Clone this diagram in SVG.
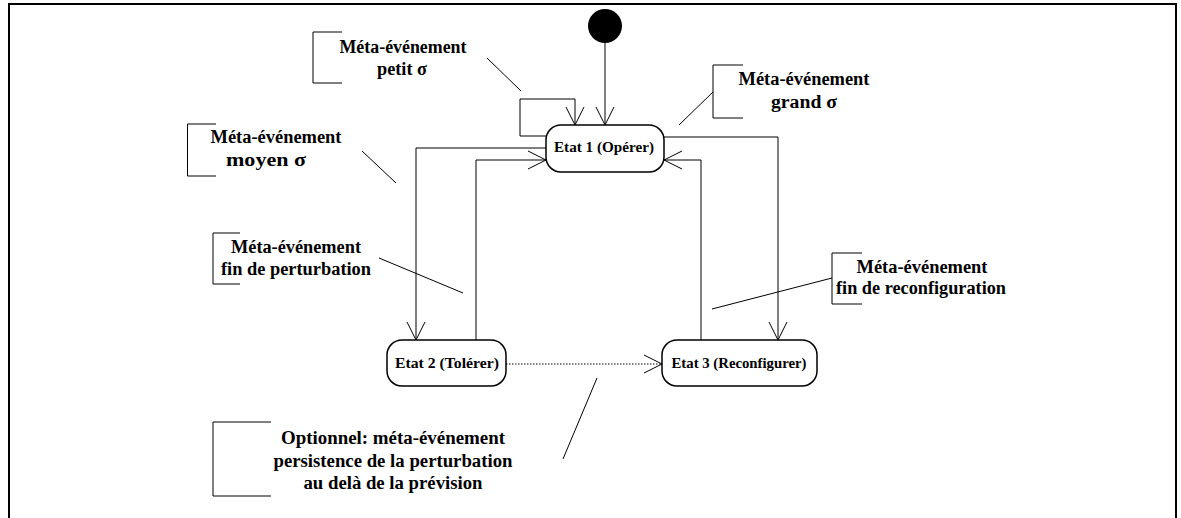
<svg xmlns="http://www.w3.org/2000/svg" width="1181" height="518" viewBox="0 0 1181 518">
<style>
.lbl{font-family:"Liberation Serif","Times New Roman",serif;font-weight:bold;font-size:18.5px;fill:#000;text-anchor:middle}
.st{font-family:"Liberation Serif","Times New Roman",serif;font-weight:bold;font-size:15.5px;fill:#000;text-anchor:middle}
.box{fill:#fff;stroke:#000;stroke-width:1.5}
.con{fill:none;stroke:#000;stroke-width:1}
.dot{fill:none;stroke:#000;stroke-width:1;stroke-dasharray:1.5 1.5}
.ann{fill:none;stroke:#000;stroke-width:1}
.brk{fill:none;stroke:#000;stroke-width:1}
</style>
<defs>
<marker id="arr" viewBox="0 0 20 20" refX="19" refY="10" markerWidth="20" markerHeight="20" markerUnits="userSpaceOnUse" orient="auto">
<path d="M1,1 L19,10 L1,19" fill="none" stroke="#000" stroke-width="1"/>
</marker>
</defs>
<rect width="1181" height="518" fill="#fff"/>
<g id="frame">
<path d="M9,518 V4 H1176 V518" fill="none" stroke="#000" stroke-width="2"/>
</g>
<g id="connectors">
<path class="con" d="M605,43 V125" marker-end="url(#arr)"/>
<path class="con" d="M546,136 H520 V99 H575 V125" marker-end="url(#arr)"/>
<path class="con" d="M546,148 H416 V340" marker-end="url(#arr)"/>
<path class="con" d="M476,340 V160 H546" marker-end="url(#arr)"/>
<path class="con" d="M664,137 H778 V340" marker-end="url(#arr)"/>
<path class="con" d="M701,340 V160 H664" marker-end="url(#arr)"/>
<path class="dot" d="M506,364 H662" marker-end="url(#arr)"/>
<line class="ann" x1="487" y1="58" x2="521" y2="91"/>
<line class="ann" x1="713" y1="92" x2="679" y2="125"/>
<line class="ann" x1="362" y1="151" x2="396" y2="183"/>
<line class="ann" x1="379" y1="258" x2="463" y2="293"/>
<line class="ann" x1="832" y1="278" x2="712" y2="309"/>
<line class="ann" x1="597" y1="378" x2="563" y2="459"/>
</g>
<g id="initial">
<circle cx="605" cy="26" r="17" fill="#000"/>
</g>
<g id="etat1">
<rect class="box" x="546" y="125" width="118" height="47" rx="15" ry="15"/>
<text class="st" x="604" y="152" textLength="100" lengthAdjust="spacingAndGlyphs">Etat 1 (Opérer)</text>
</g>
<g id="etat2">
<rect class="box" x="387" y="340" width="119" height="46" rx="15" ry="15"/>
<text class="st" x="447" y="368" textLength="104" lengthAdjust="spacingAndGlyphs">Etat 2 (Tolérer)</text>
</g>
<g id="etat3">
<rect class="box" x="662" y="340" width="155" height="46" rx="15" ry="15"/>
<text class="st" x="739" y="368" textLength="135" lengthAdjust="spacingAndGlyphs">Etat 3 (Reconfigurer)</text>
</g>
<g id="note-petit">
<path class="brk" d="M342,32 H313 V83 H342"/>
<text class="lbl" x="403" y="53" textLength="127" lengthAdjust="spacingAndGlyphs">Méta-événement</text>
<text class="lbl" x="402" y="75" textLength="50" lengthAdjust="spacingAndGlyphs">petit σ</text>
</g>
<g id="note-grand">
<path class="brk" d="M743,65 H713 V118 H743"/>
<text class="lbl" x="804" y="85" textLength="131" lengthAdjust="spacingAndGlyphs">Méta-événement</text>
<text class="lbl" x="804" y="108" textLength="66" lengthAdjust="spacingAndGlyphs">grand  σ</text>
</g>
<g id="note-moyen">
<path class="brk" d="M216,124 H187.5 V176 H216"/>
<text class="lbl" x="276" y="143" textLength="131" lengthAdjust="spacingAndGlyphs">Méta-événement</text>
<text class="lbl" x="266" y="166" textLength="80" lengthAdjust="spacingAndGlyphs">moyen σ</text>
</g>
<g id="note-finpert">
<path class="brk" d="M240,233 H213 V284 H240"/>
<text class="lbl" x="296" y="253" textLength="130" lengthAdjust="spacingAndGlyphs">Méta-événement</text>
<text class="lbl" x="296" y="275" textLength="150" lengthAdjust="spacingAndGlyphs">fin de perturbation</text>
</g>
<g id="note-finreconf">
<path class="brk" d="M862,253 H832 V304 H862"/>
<text class="lbl" x="922" y="273" textLength="131" lengthAdjust="spacingAndGlyphs">Méta-événement</text>
<text class="lbl" x="921" y="294" textLength="170" lengthAdjust="spacingAndGlyphs">fin de reconfiguration</text>
</g>
<g id="note-optionnel">
<path class="brk" d="M271,422 H213 V496 H271"/>
<text class="lbl" x="393" y="444" textLength="224" lengthAdjust="spacingAndGlyphs">Optionnel: méta-événement</text>
<text class="lbl" x="393" y="467" textLength="239" lengthAdjust="spacingAndGlyphs">persistence de la perturbation</text>
<text class="lbl" x="393" y="489" textLength="179" lengthAdjust="spacingAndGlyphs">au delà de la prévision</text>
</g>
</svg>
